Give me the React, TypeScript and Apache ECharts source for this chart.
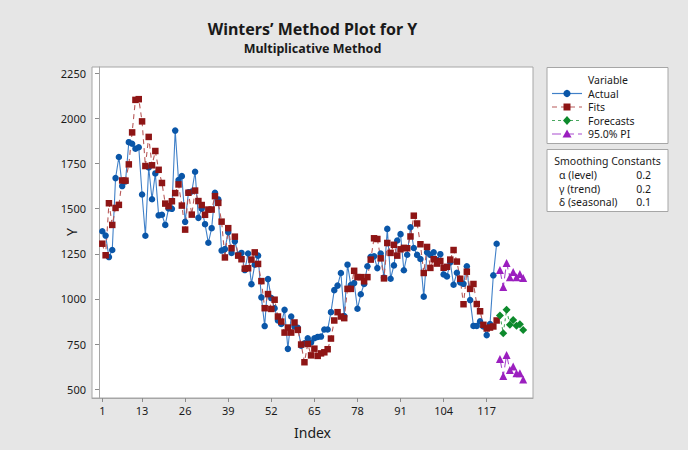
import React, { useEffect, useRef } from "react";
import * as echarts from "echarts";

const actual = [
  1375, 1351, 1232, 1271, 1669, 1786, 1625, 1650, 1868, 1859,
  1832, 1840, 1578, 1350, 1728, 1552, 1695, 1463, 1466, 1410,
  1501, 1499, 1932, 1658, 1680, 1427, 1591, 1595, 1704, 1449,
  1500, 1414, 1311, 1392, 1588, 1551, 1268, 1276, 1370, 1255,
  1319, 1245, 1255, 1160, 1252, 1082, 1190, 1240, 1009, 850,
  1110, 1005, 949, 881, 862, 940, 724, 903, 848, 840,
  742, 755, 783, 759, 783, 790, 792, 831, 831, 927,
  1049, 1074, 1144, 905, 1190, 1077, 1088, 946, 1026, 1083,
  1181, 1234, 1236, 1171, 1252, 1118, 1388, 1112, 1186, 1324,
  1359, 1159, 1245, 1397, 1282, 1244, 1221, 1013, 1258, 1244,
  1259, 1215, 1248, 1136, 1125, 1203, 1079, 1145, 1092, 1084,
  1181, 994, 851, 851, 876, 848, 800, 861, 1131, 1306,
];

const fits = [
  1306, 1242, 1530, 1410, 1504, 1521, 1656, 1655, 1745, 1922,
  2102, 2106, 1983, 1736, 1897, 1740, 1819, 1715, 1642, 1528,
  1514, 1541, 1586, 1634, 1517, 1384, 1588, 1467, 1600, 1542,
  1520, 1466, 1495, 1495, 1569, 1532, 1428, 1230, 1392, 1281,
  1345, 1240, 1220, 1168, 1170, 1218, 1258, 1194, 1099, 949,
  1027, 945, 996, 903, 875, 814, 842, 814, 870, 829,
  748, 650, 751, 688, 725, 685, 699, 705, 722, 781,
  881, 927, 903, 894, 1056, 1056, 1156, 1121, 1121, 1098,
  1121, 1218, 1336, 1332, 1225, 1114, 1310, 1255, 1300, 1240,
  1275, 1283, 1281, 1346, 1461, 1418, 1303, 1144, 1288, 1172,
  1220, 1196, 1210, 1173, 1178, 1218, 1271, 1207, 1112, 971,
  1151, 1056, 1083, 972, 932, 857, 837, 842, 848, 881,
];

const forecastIndex = [121, 122, 123, 124, 125, 126, 127, 128];
const forecasts = [909, 811, 940, 858, 884, 852, 860, 828];
const upperPI = [1160, 1066, 1199, 1121, 1149, 1121, 1138, 1116];
const lowerPI = [668, 574, 690, 607, 626, 589, 589, 555];

const xTicks = [1, 13, 26, 39, 52, 65, 78, 91, 104, 117];
const yTicks = [500, 750, 1000, 1250, 1500, 1750, 2000, 2250];

const smoothingLabels = ["α (level)", "γ (trend)", "δ (seasonal)"];
const smoothingValues = ["0.2", "0.2", "0.1"];

const FONT = "'Noto Sans', 'Open Sans', sans-serif";
const BLUE = "#0a56a8";
const BLUE_LINE = "#4080c8";
const RED = "#8e1515";
const RED_LINE = "#b85a5a";
const GREEN = "#0d8a2c";
const GREEN_LINE = "#4aa860";
const PURPLE = "#9b1fbf";
const PURPLE_LINE = "#a94fcf";

export default function App() {
  const ref = useRef<HTMLDivElement>(null);
  useEffect(() => {
    document.body.style.margin = "0";
    if (!ref.current) return;
    const chart = echarts.init(ref.current, undefined, { renderer: "svg" });
    const pair = (xs: number[], ys: number[]) => ys.map((v, k) => [xs[k], v]);
    const idx = actual.map((_, k) => k + 1);

    const legendItems = [
      { name: "Actual", color: BLUE, line: BLUE_LINE, dash: null as any, shape: "circle" },
      { name: "Fits", color: RED, line: RED_LINE, dash: [5, 4], shape: "rect" },
      { name: "Forecasts", color: GREEN, line: GREEN_LINE, dash: [3, 3], shape: "diamond" },
      { name: "95.0% PI", color: PURPLE, line: PURPLE_LINE, dash: [9, 4], shape: "triangle" },
    ];
    const legendY = [93.5, 107, 120.5, 134];
    const graphics: any[] = [
      {
        type: "text",
        style: { text: "Winters’ Method Plot for Y", x: 312.5, y: 29, font: `bold 16px ${FONT}`, fill: "#1a1a1a", textAlign: "center", textVerticalAlign: "middle" },
      },
      {
        type: "text",
        style: { text: "Multiplicative Method", x: 312.5, y: 48, font: `bold 12.5px ${FONT}`, fill: "#1a1a1a", textAlign: "center", textVerticalAlign: "middle" },
      },
      {
        type: "text",
        style: { text: "Index", x: 312.5, y: 432, font: `14px ${FONT}`, fill: "#1a1a1a", textAlign: "center", textVerticalAlign: "middle" },
      },
      {
        type: "text",
        x: 71, y: 232, rotation: Math.PI / 2,
        style: { text: "Y", x: 0, y: 0, font: `14px ${FONT}`, fill: "#1a1a1a", textAlign: "center", textVerticalAlign: "middle" },
      },
      {
        type: "rect",
        shape: { x: 547, y: 67.5, width: 121, height: 76 },
        style: { fill: "#ffffff", stroke: "#a6a6a6", lineWidth: 1 },
      },
      {
        type: "text",
        style: { text: "Variable", x: 608, y: 80, font: `10.5px ${FONT}`, fill: "#1a1a1a", textAlign: "center", textVerticalAlign: "middle" },
      },
      {
        type: "rect",
        shape: { x: 547, y: 149.5, width: 121, height: 62 },
        style: { fill: "#ffffff", stroke: "#a6a6a6", lineWidth: 1 },
      },
      {
        type: "text",
        style: { text: "Smoothing Constants", x: 607.5, y: 161, font: `10.5px ${FONT}`, fill: "#1a1a1a", textAlign: "center", textVerticalAlign: "middle" },
      },
    ];
    legendItems.forEach((it, k) => {
      const y = legendY[k];
      graphics.push({
        type: "line",
        shape: { x1: 552, y1: y, x2: 582, y2: y },
        style: { stroke: it.line, lineWidth: 1.2, lineDash: it.dash },
      });
      const cx = 567;
      if (it.shape === "circle") {
        graphics.push({ type: "circle", shape: { cx, cy: y, r: 3.6 }, style: { fill: it.color } });
      } else if (it.shape === "rect") {
        graphics.push({ type: "rect", shape: { x: cx - 3.5, y: y - 3.5, width: 7, height: 7 }, style: { fill: it.color } });
      } else if (it.shape === "diamond") {
        graphics.push({ type: "polygon", shape: { points: [[cx, y - 4.5], [cx + 4, y], [cx, y + 4.5], [cx - 4, y]] }, style: { fill: it.color } });
      } else {
        graphics.push({ type: "polygon", shape: { points: [[cx, y - 4.5], [cx + 4.5, y + 3.5], [cx - 4.5, y + 3.5]] }, style: { fill: it.color } });
      }
      graphics.push({
        type: "text",
        style: { text: it.name, x: 588, y, font: `10.5px ${FONT}`, fill: "#1a1a1a", textAlign: "left", textVerticalAlign: "middle" },
      });
    });
    const rowY = [175, 188.5, 202];
    smoothingLabels.forEach((lab, k) => {
      graphics.push({
        type: "text",
        style: { text: lab, x: 559, y: rowY[k], font: `10.5px ${FONT}`, fill: "#1a1a1a", textAlign: "left", textVerticalAlign: "middle" },
      });
      graphics.push({
        type: "text",
        style: { text: smoothingValues[k], x: 651, y: rowY[k], font: `10.5px ${FONT}`, fill: "#1a1a1a", textAlign: "right", textVerticalAlign: "middle" },
      });
    });

    const axisCommon = {
      axisLine: { show: true, lineStyle: { color: "#a6a6a6", width: 1 } },
      splitLine: { show: false },
    };

    chart.setOption({
      animation: false,
      backgroundColor: "#e6e6e6",
      textStyle: { fontFamily: FONT },
      grid: {
        left: 92, top: 67, width: 441, height: 331,
        show: true, backgroundColor: "#ffffff", borderColor: "#a6a6a6", borderWidth: 1,
      },
      xAxis: {
        type: "value", min: -2.11, max: 130.97,
        ...axisCommon,
        axisTick: { show: true, length: 4, customValues: xTicks, lineStyle: { color: "#8c8c8c" } },
        axisLabel: { customValues: xTicks, margin: 7, fontSize: 11, color: "#1a1a1a", fontFamily: FONT, formatter: (v: number) => String(v) },
      },
      yAxis: {
        type: "value", min: 452, max: 2284,
        ...axisCommon,
        axisTick: { show: true, length: 4, customValues: yTicks, lineStyle: { color: "#8c8c8c" } },
        axisLabel: { customValues: yTicks, margin: 6, fontSize: 11, color: "#1a1a1a", fontFamily: FONT, formatter: (v: number) => String(v) },
      },
      series: [
        {
          name: "Actual", type: "line", data: pair(idx, actual),
          symbol: "circle", symbolSize: 6.5, showSymbol: true,
          itemStyle: { color: BLUE }, lineStyle: { color: BLUE_LINE, width: 1.1 },
        },
        {
          name: "Fits", type: "line", data: pair(idx, fits),
          symbol: "rect", symbolSize: 6.5,
          itemStyle: { color: RED }, lineStyle: { color: RED_LINE, width: 1.1, type: [5, 4] },
        },
        {
          name: "Forecasts", type: "line", data: pair(forecastIndex, forecasts),
          symbol: "diamond", symbolSize: 8,
          itemStyle: { color: GREEN }, lineStyle: { color: GREEN_LINE, width: 1.1, type: [3, 3] },
        },
        {
          name: "Upper", type: "line", data: pair(forecastIndex, upperPI),
          symbol: "triangle", symbolSize: 8,
          itemStyle: { color: PURPLE }, lineStyle: { color: PURPLE_LINE, width: 1.1, type: [9, 4] },
        },
        {
          name: "Lower", type: "line", data: pair(forecastIndex, lowerPI),
          symbol: "triangle", symbolSize: 8,
          itemStyle: { color: PURPLE }, lineStyle: { color: PURPLE_LINE, width: 1.1, type: [9, 4] },
        },
      ],
      graphic: graphics,
    });
    return () => chart.dispose();
  }, []);
  return <div ref={ref} style={{ width: 688, height: 450 }} />;
}
